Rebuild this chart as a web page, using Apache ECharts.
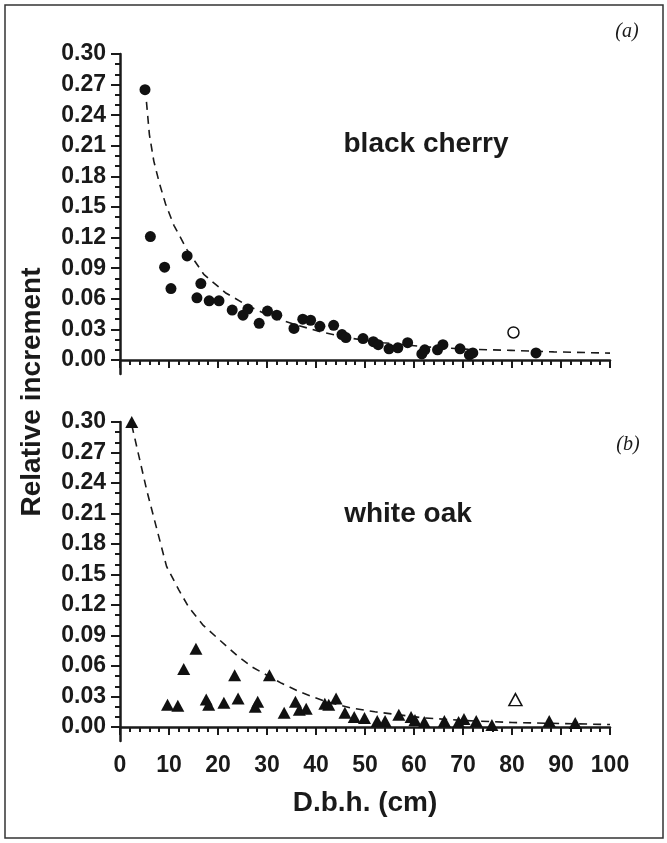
<!DOCTYPE html>
<html>
<head>
<meta charset="utf-8">
<script src="https://cdn.jsdelivr.net/npm/echarts@6/dist/echarts.min.js"></script>
<style>
html,body{margin:0;padding:0;background:#fff;}
#chart{width:667px;height:843px;}
</style>
</head>
<body>
<div id="chart"></div>
<script>
// ---- data ----
const cherryX = [5.1, 6.2, 9.1, 10.4, 13.7, 15.7, 16.5, 18.2, 20.2, 22.9, 25.1, 26.1, 28.4, 30.1, 32.0, 35.5, 37.3, 38.9, 40.8, 43.6, 45.3, 46.1, 49.6, 51.7, 52.7, 54.9, 56.7, 58.7, 61.6, 62.2, 64.8, 65.9, 69.4, 71.3, 72.0, 84.9];
const cherryY = [0.265, 0.121, 0.091, 0.070, 0.102, 0.061, 0.075, 0.058, 0.058, 0.049, 0.044, 0.050, 0.036, 0.048, 0.044, 0.031, 0.040, 0.039, 0.033, 0.034, 0.025, 0.022, 0.021, 0.018, 0.015, 0.011, 0.012, 0.017, 0.006, 0.010, 0.010, 0.015, 0.011, 0.005, 0.007, 0.007];
const cherryOpenX = [80.3];
const cherryOpenY = [0.027];
const cherryFitX = [5.4, 6.0, 6.9, 8.0, 9.3, 11.0, 13.7, 17.1, 21.5, 25.8, 31.1, 36.3, 41.5, 47.6, 53.7, 62.4, 71.1, 79.8, 88.5, 100];
const cherryFitY = [0.253, 0.221, 0.195, 0.174, 0.153, 0.132, 0.108, 0.084, 0.066, 0.054, 0.042, 0.034, 0.027, 0.021, 0.017, 0.013, 0.0105, 0.0095, 0.008, 0.0068];

const oakX = [2.4, 9.7, 11.8, 13.0, 15.5, 17.6, 18.1, 21.2, 23.4, 24.1, 27.6, 28.1, 30.5, 33.5, 35.8, 36.6, 38.0, 41.8, 42.6, 44.1, 45.9, 47.8, 49.9, 52.5, 54.1, 56.9, 59.4, 60.2, 62.1, 66.2, 69.1, 70.2, 72.7, 75.9, 87.6, 92.9];
const oakY = [0.300, 0.022, 0.021, 0.057, 0.077, 0.027, 0.022, 0.024, 0.051, 0.028, 0.020, 0.025, 0.051, 0.014, 0.025, 0.017, 0.018, 0.023, 0.022, 0.028, 0.014, 0.010, 0.009, 0.006, 0.006, 0.012, 0.010, 0.007, 0.005, 0.006, 0.005, 0.008, 0.006, 0.002, 0.006, 0.004];
const oakOpenX = [80.7];
const oakOpenY = [0.027];
const oakFitX = [2.4, 5.5, 9.5, 12, 14, 17, 20, 24, 27, 30, 33, 37, 42, 47, 52, 57, 62, 70, 80, 90, 100];
const oakFitY = [0.297, 0.232, 0.158, 0.135, 0.118, 0.100, 0.087, 0.070, 0.059, 0.051, 0.043, 0.034, 0.025, 0.019, 0.015, 0.012, 0.009, 0.0065, 0.0045, 0.0035, 0.0025];

const yTickLabels = ['0.00', '0.03', '0.06', '0.09', '0.12', '0.15', '0.18', '0.21', '0.24', '0.27', '0.30'];
const yMinorLabels = ['0.00','0.01','0.02','0.03','0.04','0.05','0.06','0.07','0.08','0.09','0.10','0.11','0.12','0.13','0.14','0.15','0.16','0.17','0.18','0.19','0.20','0.21','0.22','0.23','0.24','0.25','0.26','0.27','0.28','0.29','0.30'];
const xTickLabels = ['0', '10', '20', '30', '40', '50', '60', '70', '80', '90', '100'];

// ---- chart ----
const INK = '#1a1a1a';
const FONT = "'Liberation Sans', Arial, sans-serif";
const yMajor = yTickLabels.map(Number);
const yMinor = yMinorLabels.map(Number);
const pair = (xs, ys) => xs.map((x, i) => [x, ys[i]]);

function xAxisDef(grid, showLabels) {
  return {
    type: 'value', gridIndex: grid, min: 0, max: 100, interval: 10,
    axisLine: { show: true, lineStyle: { color: INK, width: 2.5 } },
    axisTick: { show: true, inside: false, length: 8, lineStyle: { color: INK, width: 2 } },
    minorTick: { show: true, splitNumber: 5, length: 5, lineStyle: { color: INK, width: 2 } },
    splitLine: { show: false },
    axisLabel: {
      show: showLabels, margin: 13, color: INK, fontFamily: FONT, fontWeight: 'bold', fontSize: 23,
      formatter: v => xTickLabels[Math.round(v / 10)] ?? ''
    },
    name: showLabels ? 'D.b.h. (cm)' : '',
    nameLocation: 'middle', nameGap: 48,
    nameTextStyle: { color: INK, fontFamily: FONT, fontWeight: 'bold', fontSize: 28 }
  };
}
function yMajorDef(grid) {
  return {
    type: 'value', gridIndex: grid, position: 'left', offset: 0, min: -0.0137, max: 0.30,
    axisLine: { show: true, onZero: false, lineStyle: { color: INK, width: 2.5 } },
    axisTick: { show: true, inside: false, length: 9, customValues: yMajor, lineStyle: { color: INK, width: 2 } },
    splitLine: { show: false },
    axisLabel: {
      show: true, margin: 14, customValues: yMajor, color: INK, fontFamily: FONT, fontWeight: 'bold', fontSize: 23,
      formatter: v => yTickLabels[Math.round(v / 0.03)] ?? ''
    }
  };
}
function yMinorDef(grid) {
  return {
    type: 'value', gridIndex: grid, position: 'left', offset: 0, min: -0.0137, max: 0.30,
    axisLine: { show: false },
    axisTick: { show: true, inside: false, length: 5, customValues: yMinor, lineStyle: { color: INK, width: 2 } },
    splitLine: { show: false },
    axisLabel: { show: false }
  };
}

const dashed = { color: INK, width: 1.6, type: [8, 6] };
const filled = { color: '#111', opacity: 1 };
const hollow = { color: '#fff', borderColor: '#111', borderWidth: 1.5, opacity: 1 };

const option = {
  backgroundColor: '#fff',
  animation: false,
  grid: [
    { left: 120, top: 54, width: 490, height: 320 },
    { left: 120, top: 422, width: 490, height: 319 }
  ],
  xAxis: [xAxisDef(0, false), xAxisDef(1, true)],
  yAxis: [yMajorDef(0), yMinorDef(0), yMajorDef(1), yMinorDef(1)],
  series: [
    { type: 'line', xAxisIndex: 0, yAxisIndex: 0, data: pair(cherryFitX, cherryFitY), symbol: 'none', lineStyle: dashed, z: 2 },
    { type: 'scatter', xAxisIndex: 0, yAxisIndex: 0, data: pair(cherryX, cherryY), symbol: 'circle', symbolSize: 11, itemStyle: filled, z: 3 },
    { type: 'scatter', xAxisIndex: 0, yAxisIndex: 0, data: pair(cherryOpenX, cherryOpenY), symbol: 'circle', symbolSize: 11, itemStyle: hollow, z: 3 },
    { type: 'line', xAxisIndex: 1, yAxisIndex: 2, data: pair(oakFitX, oakFitY), symbol: 'none', lineStyle: dashed, z: 2 },
    { type: 'scatter', xAxisIndex: 1, yAxisIndex: 2, data: pair(oakX, oakY), symbol: 'triangle', symbolSize: [13, 12], itemStyle: filled, z: 3 },
    { type: 'scatter', xAxisIndex: 1, yAxisIndex: 2, data: pair(oakOpenX, oakOpenY), symbol: 'triangle', symbolSize: [13, 12], itemStyle: hollow, z: 3 }
  ],
  graphic: [
    { type: 'rect', shape: { x: 5, y: 5, width: 658, height: 833 }, style: { fill: 'none', stroke: '#333', lineWidth: 1.5 }, silent: true },
    { type: 'text', x: 627, y: 32, style: { text: '(a)', font: "italic 20px 'Liberation Serif', serif", fill: INK, textAlign: 'center', textVerticalAlign: 'middle' } },
    { type: 'text', x: 628, y: 445, style: { text: '(b)', font: "italic 20px 'Liberation Serif', serif", fill: INK, textAlign: 'center', textVerticalAlign: 'middle' } },
    { type: 'text', x: 426, y: 144, style: { text: 'black cherry', font: "bold 28px 'Liberation Sans', Arial, sans-serif", fill: INK, textAlign: 'center', textVerticalAlign: 'middle' } },
    { type: 'text', x: 408, y: 514, style: { text: 'white oak', font: "bold 28px 'Liberation Sans', Arial, sans-serif", fill: INK, textAlign: 'center', textVerticalAlign: 'middle' } },
    { type: 'text', x: 32, y: 392, rotation: Math.PI / 2, style: { text: 'Relative increment', font: "bold 28px 'Liberation Sans', Arial, sans-serif", fill: INK, textAlign: 'center', textVerticalAlign: 'middle' } }
  ]
};

const chart = echarts.init(document.getElementById('chart'), null, { renderer: 'canvas' });
chart.setOption(option);
</script>
</body>
</html>
